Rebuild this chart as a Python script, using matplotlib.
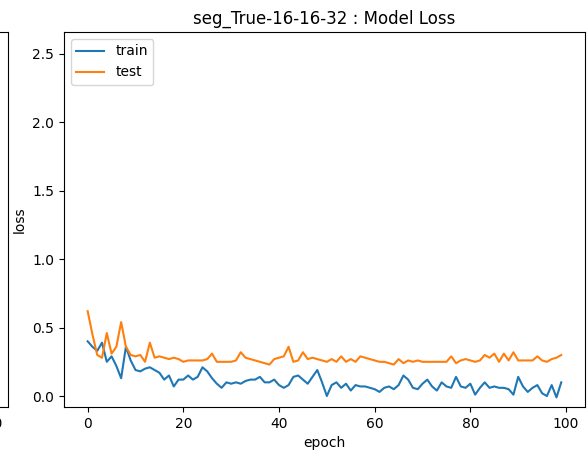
import numpy as np
import matplotlib
matplotlib.use("Agg")
import matplotlib.pyplot as plt

title = "seg_True-16-16-32 : Model Loss"

epochs = np.arange(100)

train_loss = [
    0.40, 0.36, 0.33, 0.39, 0.25, 0.29, 0.22, 0.13, 0.36, 0.26,
    0.19, 0.18, 0.20, 0.21, 0.19, 0.17, 0.12, 0.15, 0.07, 0.12,
    0.12, 0.15, 0.12, 0.14, 0.21, 0.18, 0.13, 0.09, 0.06, 0.10,
    0.09, 0.10, 0.09, 0.11, 0.12, 0.12, 0.14, 0.10, 0.10, 0.12,
    0.08, 0.06, 0.08, 0.14, 0.15, 0.12, 0.09, 0.14, 0.19, 0.10,
    0.00, 0.08, 0.10, 0.06, 0.09, 0.04, 0.08, 0.07, 0.07, 0.06,
    0.05, 0.03, 0.06, 0.07, 0.05, 0.08, 0.15, 0.12, 0.06, 0.05,
    0.09, 0.12, 0.07, 0.04, 0.10, 0.07, 0.06, 0.14, 0.07, 0.06,
    0.09, 0.01, 0.06, 0.10, 0.06, 0.07, 0.06, 0.06, 0.05, 0.01,
    0.14, 0.07, 0.03, 0.06, 0.08, 0.02, 0.00, 0.08, -0.01, 0.10,
]

test_loss = [
    0.62, 0.45, 0.30, 0.28, 0.46, 0.31, 0.36, 0.54, 0.36, 0.30,
    0.29, 0.30, 0.25, 0.39, 0.28, 0.29, 0.28, 0.27, 0.28, 0.27,
    0.25, 0.26, 0.26, 0.26, 0.26, 0.27, 0.31, 0.25, 0.25, 0.25,
    0.25, 0.26, 0.32, 0.28, 0.27, 0.26, 0.25, 0.24, 0.23, 0.27,
    0.28, 0.29, 0.36, 0.25, 0.26, 0.32, 0.27, 0.28, 0.27, 0.26,
    0.25, 0.27, 0.25, 0.29, 0.25, 0.27, 0.25, 0.29, 0.28, 0.27,
    0.26, 0.25, 0.25, 0.24, 0.23, 0.27, 0.24, 0.26, 0.25, 0.26,
    0.25, 0.25, 0.25, 0.25, 0.25, 0.25, 0.29, 0.24, 0.26, 0.27,
    0.26, 0.25, 0.26, 0.30, 0.28, 0.31, 0.25, 0.31, 0.26, 0.32,
    0.26, 0.26, 0.26, 0.26, 0.29, 0.26, 0.25, 0.27, 0.28, 0.30,
]

fig = plt.figure(figsize=(5.88, 4.5), dpi=100)

# neighbouring subplot, only its right edge and last x tick show
ax_prev = fig.add_axes([-0.872, 0.0956, 0.886, 0.8333])
ax_prev.set_xlim(-4.95, 103.95)
ax_prev.set_ylim(-0.08, 2.66)
ax_prev.set_xticks([100])
ax_prev.set_yticks([])

ax = fig.add_axes([0.1088, 0.0956, 0.886, 0.8333])
ax.plot(epochs, train_loss, label="train")
ax.plot(epochs, test_loss, label="test")
ax.set_ylim(-0.08, 2.66)
ax.set_title(title)
ax.set_xlabel("epoch")
ax.set_ylabel("loss")
ax.legend(loc="upper left")

fig.savefig("out.png", dpi=100)
